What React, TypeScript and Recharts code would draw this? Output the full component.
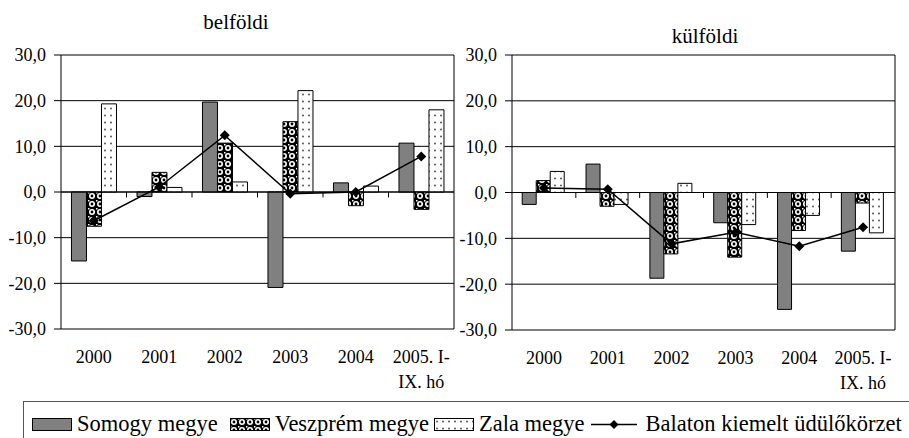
import React from "react";
import {
  Bar,
  CartesianGrid,
  ComposedChart,
  Line,
  ReferenceLine,
  XAxis,
  YAxis,
} from "recharts";

const categories = ["2000", "2001", "2002", "2003", "2004", "2005. I-\nIX. hó"];
const yTicks = [-30, -20, -10, 0, 10, 20, 30];

// belföldi
const belSomogy = [-15.1, -1.0, 19.7, -20.9, 2.0, 10.7];
const belVeszprem = [-7.5, 4.3, 10.7, 15.4, -3.0, -3.8];
const belZala = [19.3, 1.0, 2.2, 22.2, 1.3, 18.0];
const belBalaton = [-6.3, 1.1, 12.4, -0.4, 0.0, 7.8];

// külföldi
const kulSomogy = [-2.6, 6.2, -18.7, -6.6, -25.5, -12.8];
const kulVeszprem = [2.6, -3.0, -13.4, -14.1, -8.3, -2.3];
const kulZala = [4.6, -2.6, 2.0, -7.0, -5.0, -8.8];
const kulBalaton = [1.0, 0.7, -11.2, -8.7, -11.7, -7.6];

const FONT = "Liberation Serif";

const fmt = (v: number) => v.toFixed(1).replace(".", ",");

function Diamond(props: any) {
  const { cx, cy } = props;
  if (cx == null || cy == null) return null;
  const r = 5;
  return (
    <path
      d={`M${cx},${cy - r}L${cx + r},${cy}L${cx},${cy + r}L${cx - r},${cy}Z`}
      fill="#000"
    />
  );
}

function CatTick(props: any) {
  const { x, y, payload } = props;
  const lines = String(payload.value).split("\n");
  return (
    <text x={x} textAnchor="middle" fontFamily={FONT} fontSize={18} fill="#000">
      {lines.map((l, i) => (
        <tspan key={i} x={x} y={y + 34 + i * 25}>
          {l}
        </tspan>
      ))}
    </text>
  );
}

function YTick(props: any) {
  const { x, y, payload } = props;
  return (
    <text x={x} y={y} dy="0.355em" textAnchor="end" fontFamily={FONT} fontSize={18} fill="#000">
      {fmt(payload.value)}
    </text>
  );
}

interface PanelProps {
  somogy: number[];
  veszprem: number[];
  zala: number[];
  balaton: number[];
  width: number;
  height: number;
  axisWidth: number;
}

function Panel({ somogy, veszprem, zala, balaton, width, height, axisWidth }: PanelProps) {
  const data = categories.map((cat, i) => ({
    cat,
    somogy: somogy[i],
    veszprem: veszprem[i],
    zala: zala[i],
    balaton: balaton[i],
  }));

  return (
    <ComposedChart
      width={width}
      height={height}
      data={data}
      margin={{ top: 55, right: 5, bottom: 0, left: 0 }}
      barCategoryGap="16%"
      barGap={0}
    >
      <CartesianGrid vertical={false} stroke="#000" strokeWidth={1} />
      <XAxis
        dataKey="cat"
        interval={0}
        height={71}
        axisLine={false}
        tickLine={false}
        tickSize={0}
        tickMargin={0}
        tick={<CatTick />}
      />
      <YAxis
        width={axisWidth}
        domain={[-30, 30]}
        ticks={yTicks}
        tick={<YTick />}
        axisLine={{ stroke: "#000" }}
        tickLine={{ stroke: "#000" }}
        tickSize={7}
        tickMargin={8}
      />
      <YAxis
        yAxisId="right"
        orientation="right"
        width={1}
        domain={[-30, 30]}
        tick={false}
        tickLine={false}
        axisLine={{ stroke: "#000" }}
      />
      <ReferenceLine y={0} stroke="#000" />
      {categories.slice(1).map((c) => (
        <ReferenceLine
          key={c}
          position="start"
          segment={[
            { x: c, y: 0 },
            { x: c, y: -1.2 },
          ]}
          stroke="#000"
        />
      ))}
      <Bar dataKey="somogy" fill="#808080" stroke="#000" strokeWidth={1} isAnimationActive={false} />
      <Bar dataKey="veszprem" fill="url(#veszPat)" stroke="#000" strokeWidth={1} isAnimationActive={false} />
      <Bar dataKey="zala" fill="url(#zalaPat)" stroke="#000" strokeWidth={1} isAnimationActive={false} />
      <Line
        dataKey="balaton"
        stroke="#000"
        strokeWidth={1.5}
        dot={<Diamond />}
        activeDot={false}
        isAnimationActive={false}
      />
    </ComposedChart>
  );
}

function Swatch({ fill }: { fill: string }) {
  return (
    <svg width={40} height={13} style={{ marginRight: 5 }}>
      <rect x={0.5} y={0.5} width={39} height={12} fill={fill} stroke="#000" />
    </svg>
  );
}

const serif: React.CSSProperties = { fontFamily: "'Liberation Serif'" };

export default function App() {
  return (
    <div
      style={{
        position: "absolute",
        left: 0,
        top: 0,
        width: 909,
        height: 438,
        overflow: "hidden",
        background: "#fff",
      }}
    >
      <svg width={0} height={0} style={{ position: "absolute" }}>
        <defs>
          <pattern id="veszPat" width={8} height={8} patternUnits="userSpaceOnUse">
            <rect width={8} height={8} fill="#000" />
            <circle cx={4} cy={4} r={3} fill="#fff" />
            <circle cx={4} cy={4} r={1.4} fill="#000" />
            <rect x={0} y={0} width={1.5} height={1.5} fill="#fff" />
          </pattern>
          <pattern id="zalaPat" width={6} height={7} patternUnits="userSpaceOnUse">
            <rect width={6} height={7} fill="#fff" />
            <circle cx={3} cy={3.5} r={0.9} fill="#444" />
          </pattern>
        </defs>
      </svg>

      <div
        style={{
          ...serif,
          position: "absolute",
          left: 136,
          top: 10,
          width: 200,
          textAlign: "center",
          fontSize: 21,
          lineHeight: "24px",
        }}
      >
        belföldi
      </div>
      <div
        style={{
          ...serif,
          position: "absolute",
          left: 605,
          top: 24,
          width: 200,
          textAlign: "center",
          fontSize: 21,
          lineHeight: "24px",
        }}
      >
        külföldi
      </div>

      <div style={{ position: "absolute", left: 0, top: 0 }}>
        <Panel
          somogy={belSomogy}
          veszprem={belVeszprem}
          zala={belZala}
          balaton={belBalaton}
          width={460}
          height={400}
          axisWidth={61}
        />
      </div>
      <div style={{ position: "absolute", left: 450, top: 0 }}>
        <Panel
          somogy={kulSomogy}
          veszprem={kulVeszprem}
          zala={kulZala}
          balaton={kulBalaton}
          width={451}
          height={401}
          axisWidth={62}
        />
      </div>

      <div
        style={{
          ...serif,
          position: "absolute",
          left: 23,
          top: 401,
          width: 900,
          height: 50,
          borderTop: "1px solid #555",
          borderLeft: "1px solid #555",
          boxSizing: "border-box",
          display: "flex",
          alignItems: "flex-start",
          paddingLeft: 8,
          paddingTop: 9,
          fontSize: 22.5,
          lineHeight: "26px",
          whiteSpace: "nowrap",
        }}
      >
        <span style={{ display: "flex", alignItems: "center", marginRight: 12 }}>
          <Swatch fill="#808080" />
          Somogy megye
        </span>
        <span style={{ display: "flex", alignItems: "center", marginRight: 5 }}>
          <Swatch fill="url(#veszPat)" />
          Veszprém megye
        </span>
        <span style={{ display: "flex", alignItems: "center", marginRight: 6 }}>
          <Swatch fill="url(#zalaPat)" />
          Zala megye
        </span>
        <span style={{ display: "flex", alignItems: "center" }}>
          <svg width={46} height={13} style={{ marginRight: 9 }}>
            <line x1={0} y1={6.5} x2={46} y2={6.5} stroke="#000" strokeWidth={1.5} />
            <path d="M23,2L27.5,6.5L23,11L18.5,6.5Z" fill="#000" />
          </svg>
          Balaton kiemelt üdülőkörzet
        </span>
      </div>
    </div>
  );
}
